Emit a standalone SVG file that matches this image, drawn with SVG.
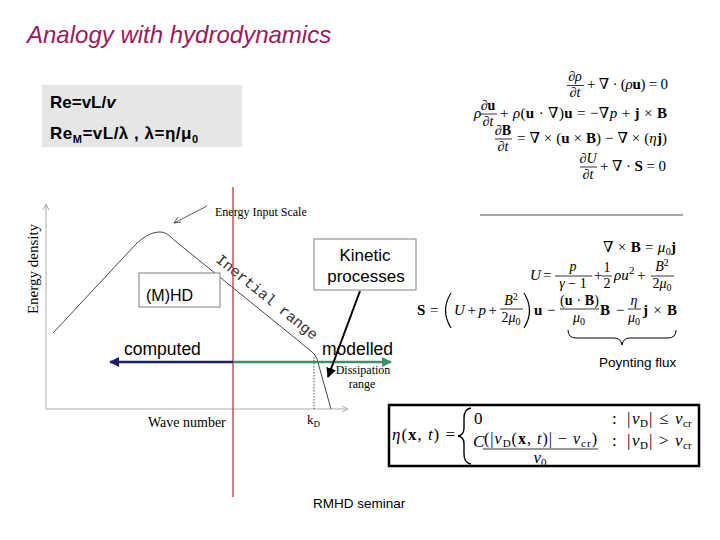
<svg xmlns="http://www.w3.org/2000/svg" width="720" height="540" viewBox="0 0 720 540">
<defs>
<style>
.s{font-family:"Liberation Sans",Arial,sans-serif}
.r{font-family:"Liberation Serif","Times New Roman",serif}
.m{font-family:"Liberation Serif","DejaVu Serif",serif;font-size:15px;fill:#000}
.f{font-family:"Liberation Serif","DejaVu Serif",serif;font-size:14px;fill:#000}
.q{font-family:"Liberation Serif","DejaVu Serif",serif;font-size:17px;fill:#000}
.sub{font-family:"Liberation Serif","DejaVu Serif",serif;font-size:11px;fill:#000}
.i{font-style:italic}
.b{font-weight:bold}
.bar{stroke:#000;stroke-width:0.8}
.box{fill:#fff;stroke:#808080;stroke-width:1}
.ax{stroke:#aaa;stroke-width:1;fill:none}
</style>
<marker id="ahNavy" viewBox="0 0 10 10" refX="9" refY="5" markerWidth="4" markerHeight="4" orient="auto"><path d="M0,0 L10,5 L0,10 z" fill="#1c1f6b"/></marker>
<marker id="ahGreen" viewBox="0 0 10 10" refX="9" refY="5" markerWidth="4" markerHeight="4" orient="auto"><path d="M0,0 L10,5 L0,10 z" fill="#3f8f6d"/></marker>
<marker id="ahBlack" viewBox="0 0 10 10" refX="9" refY="5" markerWidth="5" markerHeight="5" orient="auto"><path d="M0,0 L10,5 L0,10 z" fill="#000"/></marker>
</defs>
<rect width="720" height="540" fill="#fff"/>

<text id="title" class="s i" x="27" y="43" font-size="24" fill="#991a5f">Analogy with hydrodynamics</text>

<g id="reynolds">
<rect x="42" y="85" width="200" height="62" fill="#e6e6e6"/>
<text class="s b" x="50" y="108" font-size="17">Re=vL/<tspan class="i">v</tspan></text>
<text class="s b" x="50" y="139" font-size="17" textLength="148" lengthAdjust="spacing">Re<tspan font-size="11" dy="4">M</tspan><tspan dy="-4">=vL/λ , λ=η/μ</tspan><tspan font-size="11" dy="4">0</tspan></text>
</g>

<g id="mhd-equations">
<text class="f" x="575" y="81" text-anchor="middle">∂<tspan class="i">ρ</tspan></text>
<line class="bar" x1="567" y1="85.5" x2="584" y2="85.5"/>
<text class="f" x="575" y="97" text-anchor="middle">∂<tspan class="i">t</tspan></text>
<text class="m" x="587" y="89" textLength="81" lengthAdjust="spacing">+ ∇ · (<tspan class="i">ρ</tspan><tspan class="b">u</tspan>) = 0</text>

<text class="m i" x="474" y="118">ρ</text>
<text class="f" x="488" y="110" text-anchor="middle">∂<tspan class="b">u</tspan></text>
<line class="bar" x1="480" y1="114" x2="497" y2="114"/>
<text class="f" x="488" y="126" text-anchor="middle">∂<tspan class="i">t</tspan></text>
<text class="m" x="500" y="118" textLength="167" lengthAdjust="spacing">+ <tspan class="i">ρ</tspan>(<tspan class="b">u</tspan> · ∇)<tspan class="b">u</tspan> = −∇<tspan class="i">p</tspan> + <tspan class="b">j</tspan> × <tspan class="b">B</tspan></text>

<text class="f" x="503" y="135" text-anchor="middle">∂<tspan class="b">B</tspan></text>
<line class="bar" x1="495" y1="139" x2="512" y2="139"/>
<text class="f" x="503" y="151" text-anchor="middle">∂<tspan class="i">t</tspan></text>
<text class="m" x="517" y="143" textLength="150" lengthAdjust="spacing">= ∇ × (<tspan class="b">u</tspan> × <tspan class="b">B</tspan>) − ∇ × (<tspan class="i">η</tspan><tspan class="b">j</tspan>)</text>

<text class="f" x="588" y="163" text-anchor="middle">∂<tspan class="i">U</tspan></text>
<line class="bar" x1="580" y1="167" x2="597" y2="167"/>
<text class="f" x="588" y="179" text-anchor="middle">∂<tspan class="i">t</tspan></text>
<text class="m" x="600" y="171" textLength="66" lengthAdjust="spacing">+ ∇ · <tspan class="b">S</tspan> = 0</text>

<line x1="480" y1="215" x2="683" y2="215" stroke="#888" stroke-width="1.5"/>
</g>

<g id="energy-equations">
<text class="m" x="603" y="252" textLength="73" lengthAdjust="spacing">∇ × <tspan class="b">B</tspan> = <tspan class="i">μ</tspan><tspan font-size="10" dy="3">0</tspan><tspan class="b" dy="-3">j</tspan></text>

<text class="m i" x="530" y="280">U</text>
<text class="m" x="543" y="280">=</text>
<text class="f i" x="573" y="271" text-anchor="middle">p</text>
<line class="bar" x1="555" y1="276" x2="592" y2="276"/>
<text class="f" x="573" y="288" text-anchor="middle"><tspan class="i">γ</tspan> − 1</text>
<text class="m" x="594" y="280">+</text>
<text class="f" x="607" y="272" text-anchor="middle">1</text>
<line class="bar" x1="602" y1="276" x2="612" y2="276"/>
<text class="f" x="607" y="288" text-anchor="middle">2</text>
<text class="m i" x="614" y="280">ρu</text>
<text class="sub" x="629" y="274">2</text>
<text class="m" x="637" y="280">+</text>
<text class="f" x="662" y="271" text-anchor="middle"><tspan class="i">B</tspan><tspan font-size="10" dy="-5">2</tspan></text>
<line class="bar" x1="651" y1="276" x2="674" y2="276"/>
<text class="f" x="662" y="288" text-anchor="middle">2<tspan class="i">μ</tspan><tspan font-size="10" dy="3">0</tspan></text>

<text class="m b" x="417" y="315">S</text>
<text class="m" x="430" y="315">=</text>
<path d="M451,293 Q440,310.5 451,328" fill="none" stroke="#000" stroke-width="1.2"/>
<text class="m" x="454" y="315" textLength="43" lengthAdjust="spacing"><tspan class="i">U</tspan> + <tspan class="i">p</tspan> +</text>
<text class="f" x="511" y="305" text-anchor="middle"><tspan class="i">B</tspan><tspan font-size="10" dy="-5">2</tspan></text>
<line class="bar" x1="500" y1="309" x2="523" y2="309"/>
<text class="f" x="511" y="322" text-anchor="middle">2<tspan class="i">μ</tspan><tspan font-size="10" dy="3">0</tspan></text>
<path d="M524,293 Q535,310.5 524,328" fill="none" stroke="#000" stroke-width="1.2"/>
<text class="m b" x="534" y="315">u</text>
<text class="m" x="547" y="315">−</text>
<text class="f" x="560" y="305" textLength="39" lengthAdjust="spacing">(<tspan class="b">u</tspan> · <tspan class="b">B</tspan>)</text>
<line class="bar" x1="560" y1="309" x2="599" y2="309"/>
<text class="f" x="579" y="322" text-anchor="middle"><tspan class="i">μ</tspan><tspan font-size="10" dy="3">0</tspan></text>
<text class="m b" x="600" y="315">B</text>
<text class="m" x="616" y="315">−</text>
<text class="f i" x="634" y="305" text-anchor="middle">η</text>
<line class="bar" x1="628" y1="309" x2="641" y2="309"/>
<text class="f" x="634" y="322" text-anchor="middle"><tspan class="i">μ</tspan><tspan font-size="10" dy="3">0</tspan></text>
<text class="m" x="643" y="315" textLength="34" lengthAdjust="spacing"><tspan class="b">j</tspan> × <tspan class="b">B</tspan></text>

<path d="M568,330 Q568,338 576,338 L614,338 Q621,338 622,345 Q623,338 630,338 L668,338 Q676,338 676,330" fill="none" stroke="#000" stroke-width="1"/>
<text class="s" x="599" y="367" font-size="13.5">Poynting flux</text>
</g>

<g id="resistivity">
<rect x="389" y="405" width="310" height="61" fill="none" stroke="#000" stroke-width="2.5"/>
<text class="q" x="392" y="440" textLength="63" lengthAdjust="spacing"><tspan class="i">η</tspan>(<tspan class="b">x</tspan>, <tspan class="i">t</tspan>) =</text>
<path d="M471,408 Q464,409 464,418 L464,428 Q464,435 458,436 Q464,437 464,444 L464,454 Q464,463 471,464" fill="none" stroke="#000" stroke-width="1.4"/>
<text class="q" x="474" y="424">0</text>
<text class="q i" x="473" y="447">C</text>
<text class="q" x="484" y="444" style="font-size:16px" textLength="113" lengthAdjust="spacing">(|<tspan class="i">v</tspan><tspan font-size="11" dy="3">D</tspan><tspan dy="-3">(</tspan><tspan class="b">x</tspan>, <tspan class="i">t</tspan>)| − <tspan class="i">v</tspan><tspan font-size="11" dy="3">cr</tspan><tspan dy="-3">)</tspan></text>
<line class="bar" x1="483" y1="449" x2="598" y2="449"/>
<text class="q" x="540" y="463" text-anchor="middle"><tspan class="i">v</tspan><tspan font-size="11" dy="3">0</tspan></text>
<text class="q" x="612" y="424">:</text>
<text class="q" x="612" y="446">:</text>
<text class="q" x="627" y="424">|</text>
<text class="q i" x="632" y="424">v</text>
<text class="sub" x="640" y="427">D</text>
<text class="q" x="649" y="424">|</text>
<text class="q" x="659" y="424">≤</text>
<text class="q i" x="675" y="424">v</text>
<text class="sub" x="683" y="427">cr</text>
<text class="q" x="627" y="446">|</text>
<text class="q i" x="632" y="446">v</text>
<text class="sub" x="640" y="449">D</text>
<text class="q" x="649" y="446">|</text>
<text class="q" x="659" y="446">&gt;</text>
<text class="q i" x="675" y="446">v</text>
<text class="sub" x="683" y="449">cr</text>
</g>

<g id="spectrum-plot">
<path class="ax" d="M46,409 L46,204 M43,210 L46,204 L49,210"/>
<path class="ax" d="M46,409 L348,409 M342,406 L348,409 L342,412"/>
<path d="M53,333 L137,243 C145,236 152,232 160,232 C166,232 170,236 174,240 L311,351 Q316,355 317,359 L331,409" fill="none" stroke="#333" stroke-width="0.9"/>
<line x1="314" y1="357" x2="314" y2="409" stroke="#555" stroke-width="1" stroke-dasharray="1.5,1.5"/>
<text class="r" x="0" y="0" font-size="15" text-anchor="middle" transform="translate(38,269) rotate(-90)">Energy density</text>
<text class="r" x="148" y="427" font-size="14">Wave number</text>
<text class="r" x="307" y="424" font-size="13">k<tspan font-size="9" dy="3">D</tspan></text>
<text class="r" x="215" y="216" font-size="12">Energy Input Scale</text>
<path d="M207,206 L174,223 M178,217 L174,223 L181,222" fill="none" stroke="#333" stroke-width="0.8"/>
<text font-family="'Liberation Mono','Courier New',monospace" font-size="15" fill="#333" transform="translate(215,261) rotate(39)">Inertial range</text>
<text class="r" x="363" y="374" font-size="12" text-anchor="middle">Dissipation</text>
<text class="r" x="362" y="388" font-size="12" text-anchor="middle">range</text>
</g>

<g id="connectors">
<line x1="233" y1="187" x2="233" y2="497" stroke="#b8262c" stroke-width="1.2"/>
<line x1="233" y1="362" x2="110" y2="362" stroke="#1c1f6b" stroke-width="2.5" marker-end="url(#ahNavy)"/>
<line x1="233" y1="362" x2="391" y2="362" stroke="#3f8f6d" stroke-width="2.5" marker-end="url(#ahGreen)"/>
<line x1="360" y1="291" x2="328" y2="377" stroke="#000" stroke-width="2" marker-end="url(#ahBlack)"/>
</g>

<g id="mhd-box">
<rect class="box" x="139" y="273" width="81" height="34"/>
<text class="s" x="146" y="301" font-size="16">(M)HD</text>
</g>
<g id="kinetic-box">
<rect class="box" x="314" y="239" width="102" height="51"/>
<text class="s" x="365" y="261" font-size="17" text-anchor="middle">Kinetic</text>
<text class="s" x="366" y="282" font-size="17" text-anchor="middle">processes</text>
</g>
<text class="s" x="124" y="355" font-size="17.5">computed</text>
<text class="s" x="322" y="355" font-size="17.5">modelled</text>
<text class="s" x="313" y="508" font-size="13.5">RMHD seminar</text>
</svg>
